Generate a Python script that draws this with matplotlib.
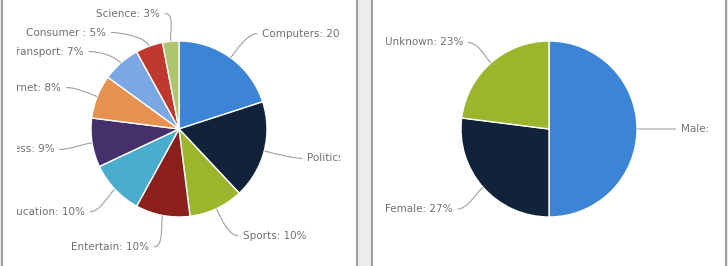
import numpy as np
import matplotlib
matplotlib.use('Agg')
import matplotlib.pyplot as plt
from matplotlib.path import Path
from matplotlib.patches import PathPatch, Rectangle

# topic share (left pie) and gender share (right pie)
topics = ['Computers', 'Politics', 'Sports', 'Entertain', 'Education',
          'Business', 'Internet', 'Transport', 'Consumer ', 'Science']
topic_pct = [20, 18, 10, 10, 10, 9, 8, 7, 5, 3]
topic_colors = ['#3c85d6', '#10233a', '#9bb52c', '#8a1f1b', '#4badcd',
                '#45306b', '#e6914f', '#7ba7e2', '#c0392f', '#aec46e']

genders = ['Male', 'Female', 'Unknown']
gender_pct = [50, 27, 23]
gender_colors = ['#3c85d6', '#10233a', '#9bb52c']

W, H = 728, 266
TEXT = '#707070'
LINE = '#a0a0a0'


def draw_pie(fig, clip_x, cx, cy, r, values, names, colors, dist=30):
    # axes in pixel coordinates, its box is the label clip region
    ax = fig.add_axes([clip_x[0] / W, 0, (clip_x[1] - clip_x[0]) / W, 1])
    ax.pie(values, colors=colors, center=(cx, H - cy), radius=r,
           startangle=90, counterclock=False, frame=True,
           wedgeprops=dict(edgecolor='white', linewidth=1))
    ax.set_xlim(clip_x[0], clip_x[1])
    ax.set_ylim(0, H)
    ax.set_aspect('auto')
    ax.axis('off')

    R = r + dist
    frac = np.cumsum(values) / float(sum(values))
    start = np.concatenate([[0], frac[:-1]])
    mid = (start + frac) / 2 * 2 * np.pi  # clockwise from top
    ys = cy - R * np.cos(mid)  # y downward, pixels
    right = np.sin(mid) >= 0

    # push overlapping labels apart on each side
    for side in (True, False):
        idx = [i for i in range(len(values)) if right[i] == side]
        idx.sort(key=lambda i: ys[i])
        for a, b in zip(idx[:-1], idx[1:]):
            if ys[b] - ys[a] < 19:
                ys[b] = ys[a] + 19

    for i, name in enumerate(names):
        y = ys[i]
        dy = y - cy
        dx = np.sqrt(max(R * R - dy * dy, 0))
        ex = cx + r * np.sin(mid[i])
        ey = cy - r * np.cos(mid[i])
        ux, uy = np.sin(mid[i]), -np.cos(mid[i])
        if right[i]:
            tx = cx + dx + 14
            lx = tx - 5
            ha = 'left'
            sgn = -1
        else:
            tx = cx - dx - 8
            lx = tx + 5
            ha = 'right'
            sgn = 1
        ty = y + (2 if not right[i] else 0)
        ax.text(tx, H - ty, '%s: %d%%' % (name, values[i]), ha=ha,
                va='center', fontsize=7.5, color=TEXT, clip_on=True)
        k = 10
        verts = [(lx, H - ty), (lx + sgn * k, H - ty),
                 (ex + ux * k, H - (ey + uy * k)), (ex, H - ey)]
        codes = [Path.MOVETO, Path.CURVE4, Path.CURVE4, Path.CURVE4]
        ax.add_patch(PathPatch(Path(verts, codes), facecolor='none',
                               edgecolor=LINE, linewidth=0.8, clip_on=True))
    return ax


def main():
    fig = plt.figure(figsize=(W / 100, H / 100), dpi=100)
    fig.patch.set_facecolor('#ededed')

    bg = fig.add_axes([0, 0, 1, 1])
    bg.set_xlim(0, W)
    bg.set_ylim(0, H)
    bg.axis('off')
    for x0, x1 in [(2, 357), (372, 726)]:
        bg.add_patch(Rectangle((x0, -5), x1 - x0, H + 10, facecolor='white',
                               edgecolor='#8c8c8c', linewidth=1.2))

    draw_pie(fig, (17, 340), 179, 129, 88, topic_pct, topics, topic_colors)
    draw_pie(fig, (386, 711), 549, 129, 88, gender_pct, genders, gender_colors)

    fig.savefig('out.png', dpi=100, facecolor=fig.get_facecolor())


if __name__ == '__main__':
    main()
